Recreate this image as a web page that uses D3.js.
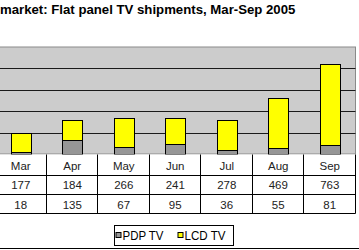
<!DOCTYPE html>
<html><head><meta charset="utf-8">
<script src="https://cdn.jsdelivr.net/npm/d3@7"></script>
<style>
html,body{margin:0;padding:0;background:#fff;}
svg{display:block;font-family:"Liberation Sans",Arial,sans-serif;}
</style></head>
<body>
<svg id="c" width="359" height="250"></svg>
<script>
const titleText = "market: Flat panel TV shipments, Mar-Sep 2005";
const categories = ["Mar","Apr","May","Jun","Jul","Aug","Sep"];
const lcd = [177,184,266,241,278,469,763];
const pdp = [18,135,67,95,36,55,81];
const yTicks = [0,200,400,600,800,1000];
const seriesNames = ["PDP TV","LCD TV"];
const seriesColors = ["#969696","#ffff00"];

const svg = d3.select("#c");
const W = 359, H = 250;
const plotTop = 47, plotBottom = 154, plotRight = 355.5;
const step = 51.5;
const plotLeft = plotRight - step*categories.length;

const x = d3.scaleBand().domain(categories).range([plotLeft, plotRight]).padding(0);
const y = d3.scaleLinear().domain([0,1000]).range([plotBottom, plotTop]);

// title
svg.append("text").attr("x", 0).attr("y", 14)
  .attr("font-size", 13.2).attr("font-weight", "bold").attr("fill", "#000")
  .text(titleText);

// plot area
svg.append("rect").attr("x", plotLeft).attr("y", plotTop)
  .attr("width", plotRight - plotLeft).attr("height", plotBottom - plotTop)
  .attr("fill", "#cccccc").attr("stroke", "#8a8a8a").attr("stroke-width", 1);

// gridlines
svg.append("g").selectAll("line").data(yTicks.filter(d => d > 0 && d < 1000)).join("line")
  .attr("x1", plotLeft).attr("x2", plotRight)
  .attr("y1", d => Math.round(y(d)) + 0.5).attr("y2", d => Math.round(y(d)) + 0.5)
  .attr("stroke", "#1a1a1a").attr("stroke-width", 1);

// stacked bars
const stackData = categories.map((c,i) => ({cat:c, pdp:pdp[i], lcd:lcd[i]}));
const stack = d3.stack().keys(["pdp","lcd"])(stackData);
const bw = x.bandwidth()*0.39;
svg.append("g").selectAll("g").data(stack).join("g")
  .attr("fill", (d,i) => seriesColors[i])
  .selectAll("rect").data(d => d).join("rect")
  .attr("x", d => Math.round(x(d.data.cat) + (x.bandwidth()-bw)/2) + 0.5)
  .attr("width", Math.round(bw))
  .attr("y", d => Math.round(y(d[1])) + 0.5)
  .attr("height", d => Math.round(y(d[0])) - Math.round(y(d[1])))
  .attr("stroke", "#000").attr("stroke-width", 1);

// data table
const rowTops = [154.5, 175.5, 194.5, 213.5];
const tbl = svg.append("g");
tbl.append("rect").attr("x", plotLeft).attr("y", rowTops[0])
  .attr("width", plotRight - plotLeft).attr("height", rowTops[3]-rowTops[0])
  .attr("fill", "#fff");
rowTops.slice(1).forEach(ry => {
  tbl.append("line").attr("x1", plotLeft).attr("x2", plotRight)
    .attr("y1", ry).attr("y2", ry).attr("stroke", "#000");
});
tbl.selectAll("line.v").data(categories).join("line").attr("class","v")
  .attr("x1", d => Math.round(x(d) + x.bandwidth()) - 0.5)
  .attr("x2", d => Math.round(x(d) + x.bandwidth()) - 0.5)
  .attr("y1", rowTops[0]).attr("y2", rowTops[3]).attr("stroke", "#000");

const rows = [categories, lcd, pdp];
const baselines = [169.5, 189, 208.5];
rows.forEach((r, ri) => {
  tbl.append("g").selectAll("text").data(r).join("text")
    .attr("x", (d,i) => x(categories[i]) + x.bandwidth()/2)
    .attr("y", baselines[ri])
    .attr("text-anchor", "middle").attr("font-size", 11.5).attr("fill", "#222")
    .text(d => d);
});

// legend
const lg = svg.append("g");
lg.append("rect").attr("x", 114.5).attr("y", 225.5).attr("width", 119).attr("height", 20)
  .attr("fill", "#fff").attr("stroke", "#000");
const legX = [115.5, 177.5];
seriesNames.forEach((n,i) => {
  lg.append("rect").attr("x", legX[i]+0.5).attr("y", 232.5).attr("width", 5).attr("height", 5)
    .attr("fill", seriesColors[i]).attr("stroke", "#000");
  lg.append("text").attr("x", legX[i]+7).attr("y", 239.5)
    .attr("font-size", 12.5).attr("textLength", 41).attr("lengthAdjust", "spacingAndGlyphs")
    .attr("fill", "#000").text(n);
});

// chart area bottom border
svg.append("line").attr("x1", 0).attr("x2", W).attr("y1", 248.5).attr("y2", 248.5)
  .attr("stroke", "#000").attr("stroke-width", 1);
</script>
</body></html>
